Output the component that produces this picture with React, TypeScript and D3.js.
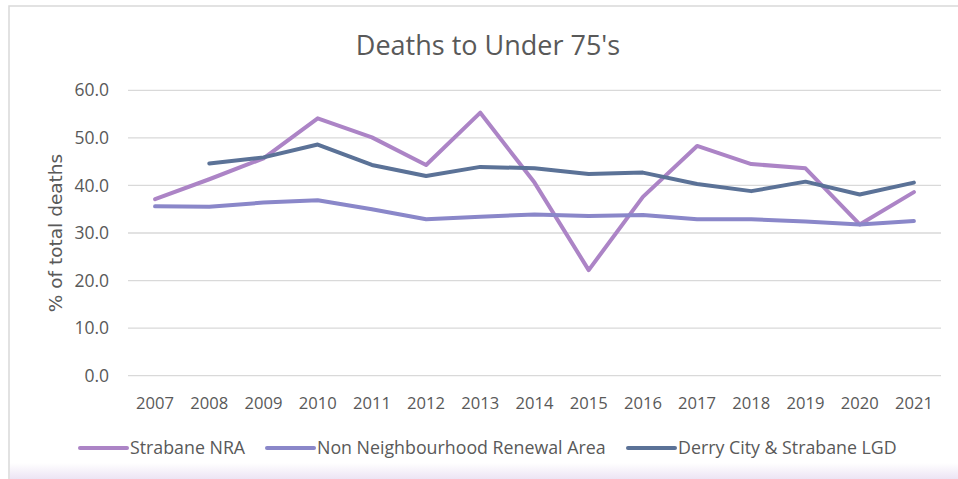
import React from "react";
import * as d3 from "d3";

const years = ["2007","2008","2009","2010","2011","2012","2013","2014","2015","2016","2017","2018","2019","2020","2021"];
const strabaneNRA: (number | null)[] = [37.1, 41.3, 45.7, 54.1, 50.1, 44.3, 55.3, 40.6, 22.2, 37.6, 48.3, 44.5, 43.6, 31.8, 38.6];
const nonNRA: (number | null)[] = [35.6, 35.5, 36.4, 36.9, 35.0, 32.9, 33.4, 33.9, 33.6, 33.8, 32.9, 32.9, 32.4, 31.8, 32.5];
const derryLGD: (number | null)[] = [null, 44.6, 45.9, 48.6, 44.3, 42.0, 43.9, 43.6, 42.4, 42.7, 40.3, 38.8, 40.8, 38.1, 40.6];
const yTicks = [0, 10, 20, 30, 40, 50, 60];
const seriesNames = ["Strabane NRA", "Non Neighbourhood Renewal Area", "Derry City & Strabane LGD"];
const seriesColors = ["#AC84C6", "#8A87C9", "#5B7297"];

const W = 958, H = 479;
const plot = { left: 128, right: 941, top: 90.3, bottom: 375.7 };
const FONT = "'Open Sans', sans-serif";
const TXT = "#595959";

export default function App() {
  const x = d3.scaleBand<string>().domain(years).range([plot.left, plot.right]);
  const y = d3.scaleLinear().domain([0, 60]).range([plot.bottom, plot.top]);
  const cx = (d: string) => (x(d) as number) + x.bandwidth() / 2;
  const line = d3
    .line<number | null>()
    .defined((d) => d !== null)
    .x((_, i) => cx(years[i]))
    .y((d) => y(d as number));
  const all = [strabaneNRA, nonNRA, derryLGD];
  const legendX = [80, 267, 628];
  return (
    <svg width={W} height={H} style={{ position: "absolute", left: 0, top: 0 }}>
      <defs>
        <linearGradient id="bot" x1="0" y1="0" x2="0" y2="1">
          <stop offset="0" stopColor="#ffffff" />
          <stop offset="1" stopColor="#ece4f4" />
        </linearGradient>
      </defs>
      <rect x={0} y={0} width={W} height={H} fill="#ffffff" />
      <rect x={9} y={6} width={W} height={H} fill="#ffffff" stroke="#d9d9d9" strokeWidth={1.5} />
      <rect x={10} y={463} width={W} height={16} fill="url(#bot)" />
      <text x={488} y={55} textAnchor="middle" fontFamily={FONT} fontSize={27} fill={TXT}>
        Deaths to Under 75's
      </text>
      {yTicks.map((t) => (
        <g key={t}>
          <line x1={plot.left} x2={plot.right} y1={y(t)} y2={y(t)} stroke="#d9d9d9" strokeWidth={1.3} />
          <text x={109} y={y(t)} dy="0.35em" textAnchor="end" fontFamily={FONT} fontSize={17.5} fill={TXT}>
            {t.toFixed(1)}
          </text>
        </g>
      ))}
      {years.map((yr) => (
        <text key={yr} x={cx(yr)} y={409} textAnchor="middle" fontFamily={FONT} fontSize={16.6} fill={TXT}>
          {yr}
        </text>
      ))}
      <text
        transform={`translate(62,233) rotate(-90)`}
        textAnchor="middle"
        fontFamily="'DejaVu Sans', sans-serif"
        fontSize={18.5}
        fill={TXT}
      >
        % of total deaths
      </text>
      {all.map((s, i) => (
        <path key={i} d={line(s) || ""} fill="none" stroke={seriesColors[i]} strokeWidth={4} strokeLinejoin="round" strokeLinecap="round" />
      ))}
      {seriesNames.map((n, i) => (
        <g key={n}>
          <line x1={legendX[i]} x2={legendX[i] + 47} y1={448} y2={448} stroke={seriesColors[i]} strokeWidth={4} strokeLinecap="round" />
          <text x={legendX[i] + 50} y={448} dy="0.35em" fontFamily={FONT} fontSize={17.8} fill={TXT}>
            {n}
          </text>
        </g>
      ))}
    </svg>
  );
}
